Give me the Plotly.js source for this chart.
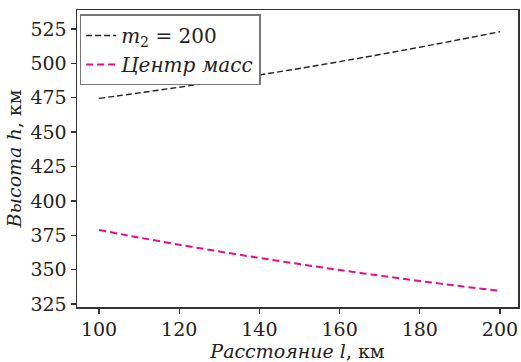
<!DOCTYPE html>
<html>
<head>
<meta charset="utf-8">
<script src="https://cdn.plot.ly/plotly-3.0.1.min.js"></script>
<style>html,body{margin:0;padding:0;background:#fff;}#chart{width:521px;height:362px;}</style>
</head>
<body>
<div id="chart"></div>
<script>
const distanceKm = [100, 110, 120, 130, 140, 150, 160, 170, 180, 190, 200];
const heightM2 = [474.5, 478.5, 482.65, 487.0, 491.55, 496.3, 501.25, 506.4, 511.75, 517.3, 523.0];
const heightCenter = [378.8, 373.3, 368.1, 363.2, 358.5, 354.0, 349.7, 345.6, 341.7, 338.0, 334.5];
const seriesNames = ['<i>m</i><sub>2</sub> = 200', '<i>Центр масс</i>'];
const xTicks = [100, 120, 140, 160, 180, 200];
const yTicks = [325, 350, 375, 400, 425, 450, 475, 500, 525];

const font = "DejaVu Serif";
const traces = [
  {x: distanceKm, y: heightM2, name: seriesNames[0], mode: 'lines',
   line: {color: '#222222', width: 1.4, dash: '6px,3px', shape: 'spline'}},
  {x: distanceKm, y: heightCenter, name: seriesNames[1], mode: 'lines',
   line: {color: '#ee0a8c', width: 2, dash: '7px,4px', shape: 'spline'}}
];
const axisCommon = {
  showgrid: false, zeroline: false, showline: true, mirror: true,
  linecolor: '#333333', linewidth: 1.5,
  ticks: 'outside', ticklen: 5, tickwidth: 1.3, tickcolor: '#333333',
  tickfont: {family: font, size: 19, color: '#222222'}
};
const layout = {
  width: 521, height: 362,
  margin: {l: 77, r: 3, t: 10, b: 55},
  paper_bgcolor: '#ffffff', plot_bgcolor: '#ffffff',
  font: {family: font},
  showlegend: true,
  legend: {x: 0.006, y: 0.985, xanchor: 'left', yanchor: 'top',
    bgcolor: '#ffffff', bordercolor: '#777777', borderwidth: 1.5,
    font: {family: font, size: 20, color: '#222222'},
    tracegroupgap: 0, itemwidth: 30},
  xaxis: Object.assign({}, axisCommon, {
    range: [94.5, 204.5], tickvals: xTicks, ticktext: xTicks.map(String),
    title: {text: '<i>Расстояние l</i>, км', font: {family: font, size: 19, color: '#222222'}, standoff: 3}
  }),
  yaxis: Object.assign({}, axisCommon, {
    range: [322.8, 538.8], tickvals: yTicks, ticktext: yTicks.map(String),
    title: {text: '<i>Высота h</i>, км', font: {family: font, size: 19, color: '#222222'}, standoff: 4}
  })
};
Plotly.newPlot('chart', traces, layout, {displayModeBar: false, staticPlot: true});
</script>
</body>
</html>
